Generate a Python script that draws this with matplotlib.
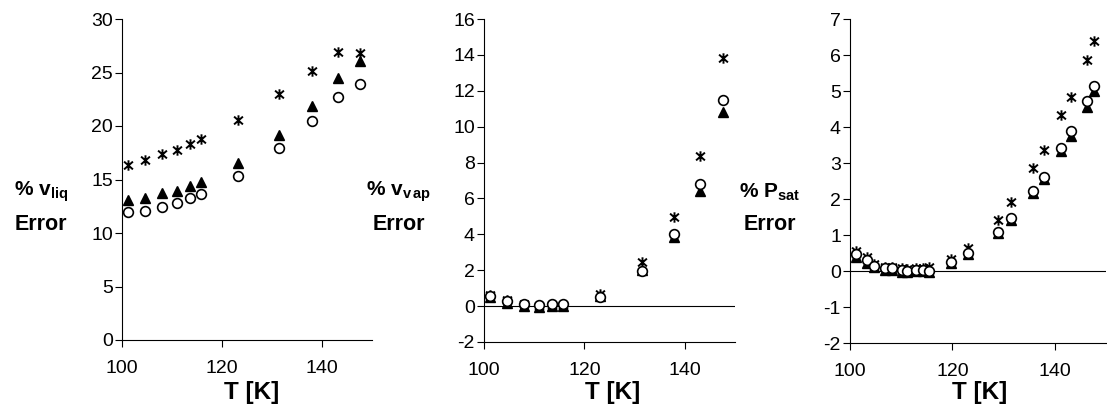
import numpy as np
import matplotlib
matplotlib.use("Agg")
import matplotlib.pyplot as plt
from matplotlib.path import Path

plt.rcParams['font.family'] = ['Liberation Sans', 'DejaVu Sans']
plt.rcParams['mathtext.fontset'] = 'custom'
plt.rcParams['mathtext.bf'] = 'Liberation Sans:bold'
plt.rcParams['mathtext.rm'] = 'Liberation Sans'
plt.rcParams['axes.unicode_minus'] = False

# liquid and vapour volume errors (same temperatures)
T_vol = [101.2, 104.6, 108.0, 111.0, 113.5, 115.8, 123.1, 131.4, 137.9, 143.1, 147.6]
liq_star = [16.4, 16.8, 17.35, 17.8, 18.3, 18.75, 20.6, 23.0, 25.15, 26.9, 26.8]
liq_tri = [13.05, 13.3, 13.7, 13.9, 14.35, 14.75, 16.5, 19.2, 21.9, 24.45, 26.05]
liq_circ = [11.96, 12.1, 12.4, 12.8, 13.25, 13.65, 15.35, 17.9, 20.45, 22.75, 23.9]

vap_star = [0.6, 0.35, 0.1, 0.0, 0.05, 0.05, 0.7, 2.45, 4.95, 8.35, 13.85]
vap_tri = [0.5, 0.2, 0.0, -0.05, 0.0, 0.0, 0.55, 2.0, 3.85, 6.4, 10.8]
vap_circ = [0.55, 0.3, 0.12, 0.05, 0.1, 0.1, 0.5, 1.95, 4.0, 6.8, 11.5]

# saturation pressure error
T_sat = [101.2, 103.3, 104.7, 106.8, 108.2, 110.1, 111.1, 112.8, 114.2, 115.4,
         119.8, 123.1, 129.0, 131.4, 135.8, 137.9, 141.3, 143.2, 146.3, 147.7]
sat_star = [0.55, 0.38, 0.2, 0.1, 0.1, 0.08, 0.05, 0.08, 0.08, 0.1,
            0.32, 0.65, 1.43, 1.91, 2.85, 3.36, 4.34, 4.84, 5.87, 6.4]
sat_tri = [0.38, 0.22, 0.1, 0.03, 0.03, -0.02, -0.03, 0.0, 0.0, -0.02,
           0.22, 0.47, 1.05, 1.43, 2.18, 2.55, 3.32, 3.76, 4.55, 5.0]
sat_circ = [0.46, 0.3, 0.15, 0.07, 0.07, 0.04, 0.0, 0.04, 0.04, 0.0,
            0.24, 0.49, 1.09, 1.47, 2.23, 2.61, 3.42, 3.89, 4.72, 5.13]

star = Path([(0, -1), (0, 1), (-0.85, -0.75), (0.85, 0.75), (-0.85, 0.75), (0.85, -0.75)],
            [Path.MOVETO, Path.LINETO, Path.MOVETO, Path.LINETO, Path.MOVETO, Path.LINETO])

W, H = 1107, 407
fig = plt.figure(figsize=(W / 100, H / 100), dpi=100)


def panel(box, x, s, t, c, ylim, ystep, hline, xlab_x):
    l, r, top, bot = box
    ax = fig.add_axes([l / W, 1 - bot / H, (r - l) / W, (bot - top) / H])
    if hline:
        ax.axhline(0, color='black', lw=0.8, zorder=1)
    ax.plot(x, s, ls='none', marker=star, ms=7.5, mec='black', mew=1.4, zorder=2)
    ax.plot(x, t, ls='none', marker='^', ms=7, mfc='black', mec='black', zorder=3)
    ax.plot(x, c, ls='none', marker='o', ms=7, mfc='white', mec='black', mew=1.2, zorder=4)
    ax.set_xlim(100, 150)
    ax.set_ylim(*ylim)
    ax.set_xticks([100, 120, 140])
    ax.set_yticks(np.arange(ylim[0], ylim[1] + 0.01, ystep))
    for sp in ['top', 'right']:
        ax.spines[sp].set_visible(False)
    for sp in ['left', 'bottom']:
        ax.spines[sp].set_linewidth(0.8)
    ax.tick_params(axis='both', direction='out', length=5, width=0.8, labelsize=14)
    ax.tick_params(axis='x', pad=9.5)
    ax.tick_params(axis='y', pad=1.5)
    ax.set_xlabel('T [K]', fontsize=17.5, fontweight='bold')
    ax.xaxis.set_label_coords(xlab_x, -(392 - bot) / (bot - top))
    ax.xaxis.label.set_va('center')
    ax.patch.set_visible(False)
    return ax


panel((122, 372, 19, 340), T_vol, liq_star, liq_tri, liq_circ, (0, 30), 5, False, 0.52)
panel((484, 735, 19, 342), T_vol, vap_star, vap_tri, vap_circ, (-2, 16), 2, True, 0.514)
panel((850, 1106, 19, 343), T_sat, sat_star, sat_tri, sat_circ, (-2, 7), 1, True, 0.506)

labels = [(41, r'% v$_{\mathbf{liq}}$'), (399, r'% v$_{\mathbf{v\,ap}}$'), (770, r'% P$_{\mathbf{sat}}$')]
for xc, txt in labels:
    fig.text(xc / W, 1 - 192 / H, txt, ha='center', va='center', fontsize=15, fontweight='bold')
    fig.text(xc / W, 1 - 225 / H, 'Error', ha='center', va='center', fontsize=15.5, fontweight='bold')

fig.savefig('out.png', dpi=100)
